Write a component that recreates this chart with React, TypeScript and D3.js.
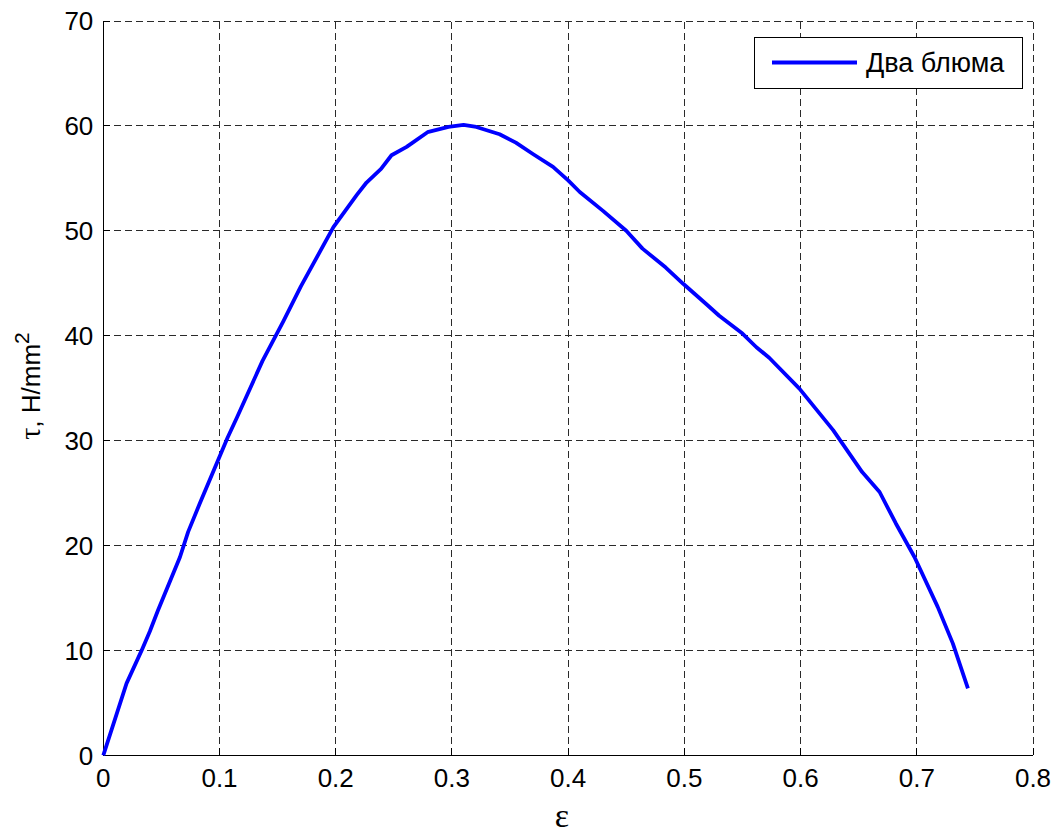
import React from "react";
import * as d3 from "d3";

const eps = [0, 0.020, 0.033, 0.040, 0.047, 0.066, 0.073, 0.083, 0.099, 0.107, 0.115, 0.137, 0.155, 0.170, 0.198, 0.218, 0.2265, 0.239, 0.248, 0.261, 0.279, 0.297, 0.310, 0.321, 0.341, 0.355, 0.370, 0.387, 0.400, 0.410, 0.430, 0.450, 0.464, 0.484, 0.499, 0.519, 0.530, 0.550, 0.562, 0.573, 0.599, 0.628, 0.653, 0.668, 0.682, 0.698, 0.718, 0.731, 0.744];
const tau = [0, 6.86, 10.0, 11.8, 13.8, 18.9, 21.3, 24.0, 28.2, 30.3, 32.2, 37.6, 41.4, 44.7, 50.35, 53.4, 54.6, 55.9, 57.2, 58.0, 59.4, 59.9, 60.1, 59.9, 59.2, 58.4, 57.3, 56.1, 54.8, 53.7, 51.9, 50.0, 48.3, 46.5, 44.95, 43.0, 41.9, 40.2, 38.9, 37.9, 34.95, 31.0, 27.0, 25.1, 22.1, 18.9, 14.15, 10.67, 6.38];
const xTicks = [0, 0.1, 0.2, 0.3, 0.4, 0.5, 0.6, 0.7, 0.8];
const yTicks = [0, 10, 20, 30, 40, 50, 60, 70];
const seriesName = "Два блюма";

export default function App() {
  const W = 1062, H = 834;
  const x = d3.scaleLinear().domain([0, 0.8]).range([103.3, 1033]);
  const y = d3.scaleLinear().domain([0, 70]).range([755.3, 21]);
  const pts = eps.map((e, i) => [e, tau[i]] as [number, number]);
  const line = d3.line<[number, number]>().x(d => x(d[0])).y(d => y(d[1]));
  const font = "'Liberation Sans', Arial, Helvetica, sans-serif";
  const serif = "'Liberation Serif', 'Times New Roman', serif";
  const gridColor = "#2a2a2a";
  return (
    <div style={{ position: "absolute", left: 0, top: 0 }}>
      <svg width={W} height={H} style={{ display: "block", background: "#fff" }}>
        <rect x={0} y={0} width={W} height={H} fill="#fff" />
        {/* grid */}
        {xTicks.filter(t => t > 0).map(t => (
          <line key={"gx" + t} x1={x(t)} x2={x(t)} y1={y(0)} y2={y(70)} stroke={gridColor} strokeWidth={1} strokeDasharray="7,4" shapeRendering="crispEdges" />
        ))}
        {yTicks.filter(t => t > 0).map(t => (
          <line key={"gy" + t} x1={x(0)} x2={x(0.8)} y1={y(t)} y2={y(t)} stroke={gridColor} strokeWidth={1} strokeDasharray="7,4" shapeRendering="crispEdges" />
        ))}
        {/* axes */}
        <line x1={x(0)} x2={x(0)} y1={y(0)} y2={y(70)} stroke="#000" strokeWidth={1} shapeRendering="crispEdges" />
        <line x1={x(0)} x2={x(0.8)} y1={y(0)} y2={y(0)} stroke="#000" strokeWidth={1} shapeRendering="crispEdges" />
        {yTicks.map(t => (
          <line key={"ty" + t} x1={x(0)} x2={x(0) + 7} y1={y(t)} y2={y(t)} stroke="#000" strokeWidth={1} shapeRendering="crispEdges" />
        ))}
        {xTicks.map(t => (
          <line key={"tx" + t} x1={x(t)} x2={x(t)} y1={y(0)} y2={y(0) - 7} stroke="#000" strokeWidth={1} shapeRendering="crispEdges" />
        ))}
        {/* tick labels */}
        {yTicks.map(t => (
          <text key={"ly" + t} x={x(0) - 10} y={y(t)} dy="0.36em" textAnchor="end" fontFamily={font} fontSize={26} fill="#000">{t}</text>
        ))}
        {xTicks.map(t => (
          <text key={"lx" + t} x={x(t)} y={787} textAnchor="middle" fontFamily={font} fontSize={26} fill="#000">{String(t)}</text>
        ))}
        {/* data */}
        <path d={line(pts) || ""} fill="none" stroke="#0000ff" strokeWidth={3.8} strokeLinejoin="round" strokeLinecap="butt" />
        {/* axis labels */}
        <text x={562} y={827} textAnchor="middle" fontFamily={serif} fontSize={34} fill="#000">ε</text>
        <text transform="translate(40,386) rotate(-90)" textAnchor="middle" fontFamily={font} fontSize={26} fill="#000">
          <tspan fontFamily={serif} fontSize={30}>τ</tspan>
          <tspan>, H/mm</tspan>
          <tspan dy={-11} fontSize={21}>2</tspan>
        </text>
        {/* legend */}
        <rect x={754.5} y={37.5} width={268} height={51} fill="#fff" stroke="#000" strokeWidth={1} />
        <line x1={772} x2={857} y1={62.5} y2={62.5} stroke="#0000ff" strokeWidth={3.8} />
        <text x={866} y={72} fontFamily={font} fontSize={27} fill="#000">{seriesName}</text>
      </svg>
    </div>
  );
}
